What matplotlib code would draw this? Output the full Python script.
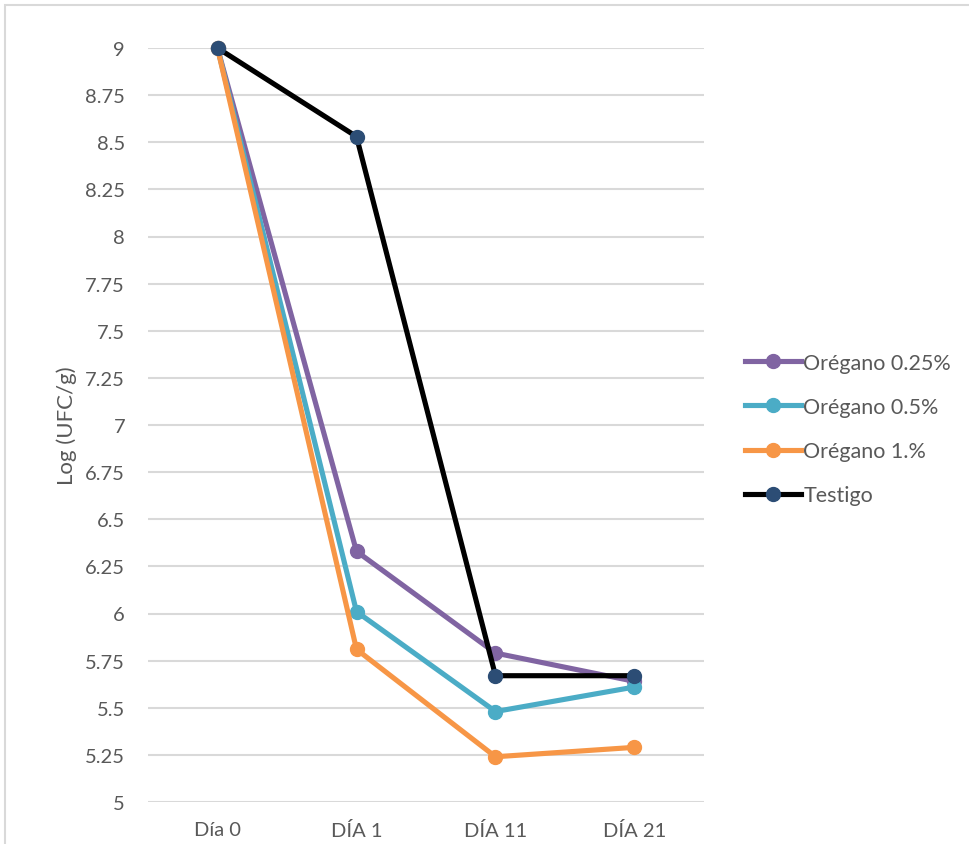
import matplotlib
matplotlib.use("Agg")
import matplotlib.pyplot as plt
from matplotlib.patches import Rectangle

plt.rcParams['font.family'] = ['Lato', 'DejaVu Sans']

days = ["Día 0", "DÍA 1", "DÍA 11", "DÍA 21"]
oregano_025 = [9.00, 6.33, 5.79, 5.64]
oregano_05 = [9.00, 6.01, 5.48, 5.61]
oregano_1 = [9.00, 5.81, 5.24, 5.29]
testigo = [9.00, 8.53, 5.67, 5.67]
y_ticks = [5, 5.25, 5.5, 5.75, 6, 6.25, 6.5, 6.75, 7, 7.25, 7.5, 7.75, 8, 8.25, 8.5, 8.75, 9]
y_tick_labels = ["5", "5.25", "5.5", "5.75", "6", "6.25", "6.5", "6.75", "7", "7.25",
                 "7.5", "7.75", "8", "8.25", "8.5", "8.75", "9"]

W, H = 970, 845
fig = plt.figure(figsize=(W / 100, H / 100), dpi=100)
fig.patch.set_facecolor("white")

# light frame around the chart area
fig.patches.append(Rectangle((5 / W, -0.05), 1.2, 1 - 6 / H + 0.05,
                             transform=fig.transFigure, fill=False,
                             edgecolor="#D9D9D9", linewidth=1.5))

ax = fig.add_axes([148 / W, 1 - 803 / H, (704 - 148) / W, (803 - 49) / H])
x = list(range(len(days)))

text_color = "#595959"
series = [
    ("Orégano 0.25%", oregano_025, "#8064A2", "#8064A2"),
    ("Orégano 0.5%", oregano_05, "#4BACC6", "#4BACC6"),
    ("Orégano 1.%", oregano_1, "#F79646", "#F79646"),
    ("Testigo", testigo, "#000000", "#2C4D75"),
]
for i, (name, vals, lc, mc) in enumerate(series):
    ax.plot(x, vals, color=lc, linewidth=3.7, marker="o", markersize=10,
            markerfacecolor=mc, markeredgecolor=mc, label=name,
            clip_on=False, zorder=3 + i)

ax.set_xlim(-0.5, len(days) - 0.5)
ax.set_ylim(5, 9)
ax.set_yticks(y_ticks)
ax.set_yticklabels(y_tick_labels)
ax.set_xticks(x)
ax.set_xticklabels(days)
ax.grid(axis="y", color="#D9D9D9", linewidth=1.5)
ax.set_axisbelow(True)
for s in ax.spines.values():
    s.set_visible(False)
ax.tick_params(axis="both", length=0, colors=text_color, labelsize=14.5)
ax.tick_params(axis="y", pad=16.5)
ax.tick_params(axis="x", pad=14)
ax.set_ylabel("Log (UFC/g)", fontsize=16, color=text_color, labelpad=6)

leg = ax.legend(loc="center left", bbox_to_anchor=(726 / W, 1 - 430 / H),
                bbox_transform=fig.transFigure, frameon=False,
                fontsize=15.5, handlelength=2.6, handletextpad=0.1,
                labelspacing=1.12, labelcolor=text_color)

fig.savefig("out.png", dpi=100, facecolor="white")
